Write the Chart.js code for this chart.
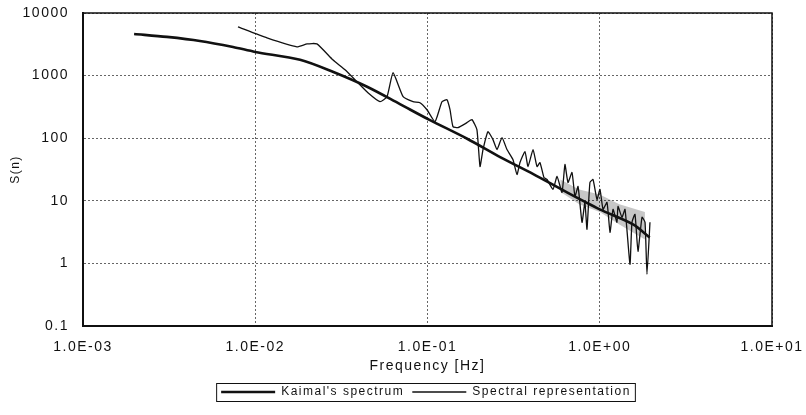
<!DOCTYPE html>
<html>
<head>
<meta charset="utf-8">
<script src="https://cdn.jsdelivr.net/npm/chart.js@4.4.1/dist/chart.umd.min.js"></script>
<style>
  html, body { margin: 0; padding: 0; background: #fff; }
  #chart { display: block; }
</style>
</head>
<body>
<canvas id="chart" width="806" height="415"></canvas>
<script>
// Kaimal's spectrum (smooth thick line)
const kaimalFreq = [0.00198, 0.00307, 0.00477, 0.00743, 0.01, 0.0182, 0.0282, 0.0446, 0.0692, 0.102,
    0.170, 0.264, 0.409, 0.646, 1.0, 1.56, 1.95];
const kaimalS = [4630, 4150, 3580, 2870, 2390, 1790, 1150, 663, 350, 198,
    98, 50, 27, 13.6, 7.3, 4.2, 2.6];

// Spectral representation (thin noisy line)
const specFreq = [0.00794, 0.0117, 0.01745, 0.0200, 0.0228, 0.0282, 0.0332, 0.0390, 0.0451, 0.0530,
    0.0582, 0.0631, 0.0722, 0.0824, 0.0904, 0.0993, 0.1106, 0.1213, 0.1297, 0.1351,
    0.1406, 0.1503, 0.1694, 0.1811, 0.1936, 0.2018, 0.210, 0.2244, 0.240, 0.2532,
    0.2707, 0.2893, 0.3133, 0.3308, 0.3443, 0.368, 0.3833, 0.410, 0.4323, 0.4498,
    0.4742, 0.4943, 0.5354, 0.565, 0.604, 0.628, 0.654, 0.690, 0.718, 0.748,
    0.789, 0.820, 0.843, 0.877, 0.914, 0.964, 1.003, 1.045, 1.102, 1.147,
    1.194, 1.259, 1.276, 1.346, 1.402, 1.498, 1.538, 1.602, 1.667, 1.759,
    1.832, 1.880, 1.957];
const specS = [5980, 4000, 2880, 3210, 3210, 1790, 1240, 796, 532, 383,
    460, 1110, 460, 383, 369, 285, 184, 383, 412, 285,
    153, 148, 177, 198, 137, 35.3, 65.8, 127, 95, 65.8,
    102, 65.8, 45.6, 26.3, 40.8, 61.2, 35.3, 65.8, 35.3, 40.8,
    23.6, 21.9, 15.2, 24.5, 13.6, 38.0, 19.6, 28.3, 11.7, 16.9,
    4.53, 9.44, 3.51, 19.6, 21.9, 10.5, 15.2, 7.30, 9.44, 3.14,
    7.30, 4.53, 8.15, 5.45, 7.30, 0.97, 4.53, 6.07, 1.56, 5.45,
    4.53, 0.67, 4.53];

// grey shaded band where the spectral line oscillates densely
const bandFreq = [0.59, 0.76, 1.0, 1.3, 1.83];
const bandUpper = [21.9, 15.2, 12.6, 8.8, 6.6];
const bandLower = [14, 8.8, 6.6, 4.2, 2.4];

const xTickValues = [0.001, 0.01, 0.1, 1, 10];
const xTickLabels = ['1.0E-03', '1.0E-02', '1.0E-01', '1.0E+00', '1.0E+01'];
const yTickValues = [0.1, 1, 10, 100, 1000, 10000];
const yTickLabels = ['0.1', '1', '10', '100', '1000', '10000'];

const toPoints = (xs, ys) => xs.map((x, i) => ({ x: x, y: ys[i] }));

const FONT = "'Liberation Sans', Arial, sans-serif";
const INK = '#111';

// wide letter spacing like the scanned original
const spacingPlugin = {
    id: 'spacing',
    afterInit(chart) {
        const lg = chart.legend;
        if (!lg) return;
        ['fit', 'draw'].forEach(fn => {
            const orig = lg[fn].bind(lg);
            lg[fn] = (...args) => {
                const c = chart.ctx;
                const prev = c.letterSpacing;
                c.letterSpacing = '1.5px';
                orig(...args);
                c.letterSpacing = prev;
            };
        });
    },
    afterLayout(chart) {
        // legend sits right of canvas centre in the original
        const lg = chart.legend;
        if (lg) { lg.left += 40; lg.right += 40; }
    },
    beforeUpdate(chart) { chart.ctx.letterSpacing = '1.5px'; },
    beforeDraw(chart) { chart.ctx.letterSpacing = '1.5px'; }
};

// frame around plot area and around legend
const framePlugin = {
    id: 'frame',
    afterDraw(chart) {
        const { ctx, chartArea: a } = chart;
        ctx.save();
        ctx.strokeStyle = INK;
        ctx.lineWidth = 1.5;
        ctx.strokeRect(a.left, a.top, a.right - a.left, a.bottom - a.top);
        const hb = chart.legend && chart.legend.legendHitBoxes;
        if (hb && hb.length) {
            const first = hb[0], last = hb[hb.length - 1];
            const l = first.left - 5, r = last.left + last.width + 4;
            const t = first.top - 3, b = first.top + first.height + 3;
            ctx.lineWidth = 1;
            ctx.strokeRect(l + 0.5, t + 0.5, r - l, b - t);
        }
        ctx.restore();
    }
};

new Chart(document.getElementById('chart'), {
    type: 'line',
    data: {
        datasets: [{
            label: "Kaimal's spectrum",
            data: toPoints(kaimalFreq, kaimalS),
            borderColor: INK,
            backgroundColor: INK,
            borderWidth: 2.6,
            pointRadius: 0,
            tension: 0.3,
            fill: false
        }, {
            label: 'Spectral representation',
            data: toPoints(specFreq, specS),
            borderColor: INK,
            backgroundColor: INK,
            borderWidth: 1.3,
            pointRadius: 0,
            tension: 0.15,
            fill: false
        }, {
            label: 'band',
            data: toPoints(bandFreq, bandUpper),
            borderWidth: 0,
            borderColor: 'rgba(0,0,0,0)',
            backgroundColor: 'rgba(0,0,0,0.22)',
            pointRadius: 0,
            fill: '+1'
        }, {
            label: 'band-low',
            data: toPoints(bandFreq, bandLower),
            borderWidth: 0,
            borderColor: 'rgba(0,0,0,0)',
            pointRadius: 0,
            fill: false
        }]
    },
    options: {
        responsive: false,
        animation: false,
        devicePixelRatio: 1,
        layout: { padding: { left: 0, right: 34, top: 13, bottom: 7 } },
        scales: {
            x: {
                type: 'logarithmic',
                min: 0.001,
                max: 10,
                afterBuildTicks: (s) => { s.ticks = xTickValues.map(v => ({ value: v })); },
                afterFit: (s) => { s.height = 52; s.paddingLeft = 0; s.paddingRight = 0; },
                ticks: {
                    autoSkip: false,
                    maxRotation: 0,
                    padding: 13,
                    color: INK,
                    font: { family: FONT, size: 14 },
                    callback: (v, i) => xTickLabels[i]
                },
                grid: { color: '#666', lineWidth: 1, drawTicks: false },
                border: { color: INK, width: 2, dash: [2, 2] },
                title: {
                    display: true,
                    text: 'Frequency [Hz]',
                    color: INK,
                    font: { family: FONT, size: 14 },
                    padding: { top: 0, bottom: 3 }
                }
            },
            y: {
                type: 'logarithmic',
                min: 0.1,
                max: 10000,
                afterBuildTicks: (s) => { s.ticks = yTickValues.map(v => ({ value: v })); },
                afterFit: (s) => { s.width = 83; s.paddingTop = 0; s.paddingBottom = 0; },
                ticks: {
                    autoSkip: false,
                    padding: 14,
                    color: INK,
                    font: { family: FONT, size: 14 },
                    callback: (v, i) => yTickLabels[i]
                },
                grid: { color: '#666', lineWidth: 1, drawTicks: false },
                border: { color: INK, width: 2, dash: [2, 2] },
                title: {
                    display: true,
                    text: 'S(n)',
                    color: INK,
                    font: { family: FONT, size: 12 },
                    padding: { top: 8, bottom: 0 }
                }
            }
        },
        plugins: {
            legend: {
                position: 'bottom',
                labels: {
                    color: INK,
                    font: { family: FONT, size: 12 },
                    usePointStyle: true,
                    pointStyle: 'line',
                    pointStyleWidth: 54,
                    boxWidth: 54,
                    padding: 8,
                    filter: (item) => item.datasetIndex < 2
                }
            },
            tooltip: { enabled: false }
        }
    },
    plugins: [spacingPlugin, framePlugin]
});
</script>
</body>
</html>
